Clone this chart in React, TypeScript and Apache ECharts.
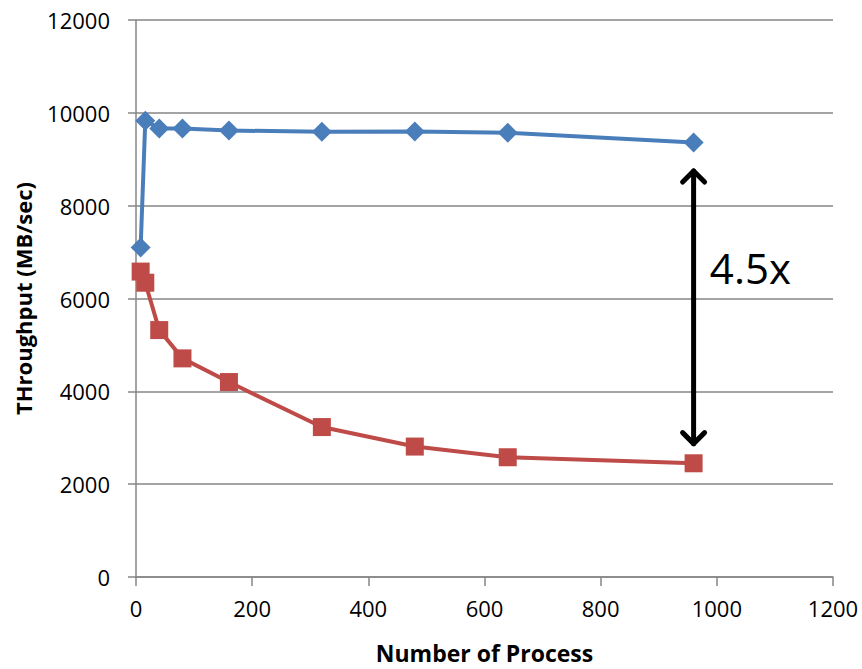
import React, { useEffect, useRef } from "react";
import * as echarts from "echarts";

const processCounts = [8, 16, 40, 80, 160, 320, 480, 640, 960];
const seriesA = [7100, 9830, 9660, 9660, 9620, 9590, 9600, 9570, 9360];
const seriesB = [6580, 6340, 5320, 4710, 4200, 3230, 2810, 2580, 2450];
const xTicks = [0, 200, 400, 600, 800, 1000, 1200];
const yTicks = [0, 2000, 4000, 6000, 8000, 10000, 12000];
const arrowX = 960;
const arrowFrom = 2830;
const arrowTo = 8790;
const ratioLabel = "4.5x";
const ratioLabelAt = [988, 6670];

export default function App() {
  const ref = useRef<HTMLDivElement>(null);
  useEffect(() => {
    if (!ref.current) return;
    const chart = echarts.init(ref.current, null, { renderer: "svg" });
    const font = "'Open Sans', 'Liberation Sans', sans-serif";
    chart.setOption({
      animation: false,
      backgroundColor: "#ffffff",
      grid: { left: 136, right: 29, top: 20, bottom: 86, containLabel: false },
      xAxis: {
        type: "value",
        min: xTicks[0],
        max: xTicks[xTicks.length - 1],
        interval: 200,
        name: "Number of Process",
        nameLocation: "middle",
        nameGap: 64,
        nameTextStyle: { fontFamily: font, fontWeight: "bold", fontSize: 23, color: "#000" },
        axisLine: { show: true, lineStyle: { color: "#868686", width: 1.5 } },
        axisTick: { show: true, length: 9, lineStyle: { color: "#868686", width: 1.5 } },
        axisLabel: { fontFamily: font, fontSize: 22, color: "#000", margin: 20, formatter: (v: number) => String(v) },
        splitLine: { show: false },
      },
      yAxis: {
        type: "value",
        min: yTicks[0],
        max: yTicks[yTicks.length - 1],
        interval: 2000,
        name: "THroughput (MB/sec)",
        nameLocation: "middle",
        nameGap: 102,
        nameTextStyle: { fontFamily: font, fontWeight: "bold", fontSize: 22, color: "#000" },
        axisLine: { show: true, lineStyle: { color: "#868686", width: 1.5 } },
        axisTick: { show: true, length: 8, lineStyle: { color: "#868686", width: 1.5 } },
        axisLabel: { fontFamily: font, fontSize: 22, color: "#000", margin: 26, formatter: (v: number) => String(v) },
        splitLine: { show: true, lineStyle: { color: "#868686", width: 1.5 } },
      },
      series: [
        {
          type: "line",
          data: processCounts.map((x, i) => [x, seriesA[i]]),
          symbol: "diamond",
          symbolSize: 20,
          itemStyle: { color: "#4A7EBB" },
          lineStyle: { color: "#4A7EBB", width: 4 },
          z: 3,
        },
        {
          type: "line",
          data: processCounts.map((x, i) => [x, seriesB[i]]),
          symbol: "rect",
          symbolSize: 18,
          itemStyle: { color: "#BE4B48" },
          lineStyle: { color: "#BE4B48", width: 4 },
          z: 3,
        },
        {
          type: "custom",
          data: [[arrowX, arrowFrom, arrowTo]],
          z: 5,
          renderItem: (params: any, api: any) => {
            const top = api.coord([api.value(0), api.value(2)]);
            const bot = api.coord([api.value(0), api.value(1)]);
            const txt = api.coord(ratioLabelAt);
            const h = 11;
            const style = { stroke: "#000", lineWidth: 5, fill: "none", lineCap: "round", lineJoin: "round" };
            return {
              type: "group",
              children: [
                { type: "line", shape: { x1: top[0], y1: top[1] + 2, x2: bot[0], y2: bot[1] - 2 }, style },
                { type: "polyline", shape: { points: [[top[0] - h, top[1] + h + 2], [top[0], top[1] + 2], [top[0] + h, top[1] + h + 2]] }, style },
                { type: "polyline", shape: { points: [[bot[0] - h, bot[1] - h - 2], [bot[0], bot[1] - 2], [bot[0] + h, bot[1] - h - 2]] }, style },
                {
                  type: "text",
                  x: txt[0],
                  y: txt[1],
                  style: { text: ratioLabel, fontFamily: font, fontSize: 42, fill: "#000", textAlign: "left", textVerticalAlign: "middle" },
                },
              ],
            };
          },
        },
      ],
    });
    return () => chart.dispose();
  }, []);
  return <div ref={ref} style={{ position: "absolute", left: 0, top: 0, width: 862, height: 669 }} />;
}
